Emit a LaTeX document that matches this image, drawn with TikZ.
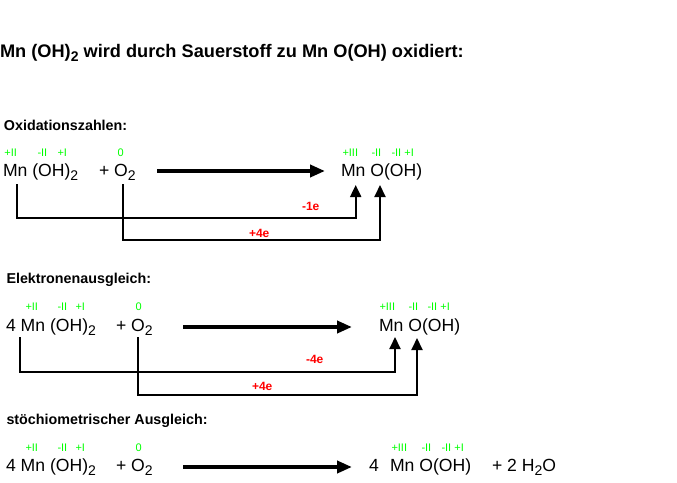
\documentclass[tikz,border=0pt]{standalone}
\usepackage{fontspec}
\setmainfont{Liberation Sans}
\usetikzlibrary{arrows.meta}
\definecolor{oxgreen}{RGB}{0,255,0}
\definecolor{ered}{RGB}{255,0,0}
\newcommand{\subtwo}[1]{\raisebox{-4pt}{\fontsize{14}{14}\selectfont #1}}
\tikzset{
  txt/.style={anchor=base west, inner sep=0pt, outer sep=0pt},
  title/.style={txt, font=\bfseries\fontsize{18.2}{18.2}\selectfont},
  head/.style={txt, font=\bfseries\fontsize{14.3}{14.3}\selectfont},
  formula/.style={txt, font=\fontsize{17.6}{17.6}\selectfont},
  oxn/.style={txt, text=oxgreen, font=\fontsize{11}{11}\selectfont},
  elab/.style={txt, text=ered, font=\bfseries\fontsize{12}{12}\selectfont},
  bigarrow/.style={line width=4pt, -{Triangle[length=15pt,width=12pt]}},
  eline/.style={line width=2pt, -{Triangle[length=12pt,width=11pt]}},
}
\begin{document}
\begin{tikzpicture}[x=1pt,y=-1pt]
\useasboundingbox (0,0) rectangle (677,482);
\fill[white] (0,0) rectangle (677,482);
% title
\node[title] (t) at (0,57) {Mn (OH)\subtwo{2} wird durch Sauerstoff zu Mn O(OH) oxidiert:};

% ---------- section 1
\node[head] (h1) at (4,130) {Oxidationszahlen:};
\node[oxn] (o11) at (4.5,156) {+II};
\node[oxn] (o12) at (37.5,156) {-II};
\node[oxn] (o13) at (57.5,156) {+I};
\node[oxn] (o14) at (117.5,156) {0};
\node[oxn] (o15) at (342.5,156) {+III};
\node[oxn] (o16) at (371.5,156) {-II};
\node[oxn] (o17) at (391.5,156) {-II +I};
\node[formula] (f11) at (3,176) {Mn (OH)\subtwo{2}};
\node[formula] (f12) at (99,176) {+ O\subtwo{2}};
\node[formula] (f13) at (341,176) {Mn O(OH)};
\coordinate (a1s) at (157,171);
\coordinate (a1e) at (325,171);
\draw[bigarrow] (a1s) -- (a1e);
\coordinate (l11s) at (16.7,184);
\coordinate (l11e) at (355.7,185);
\coordinate (l12s) at (123.3,184);
\coordinate (l12e) at (380,185);
\draw[eline] (l11s) -- (16.7,218) -- (355.7,218) -- (l11e);
\draw[eline] (l12s) -- (123.3,239.5) -- (380,239.5) -- (l12e);
\node[elab] (e11) at (302,210) {-1e};
\node[elab] (e12) at (249,237) {+4e};

% ---------- section 2
\node[head] (h2) at (6.5,283) {Elektronenausgleich:};
\node[oxn] (o21) at (25.5,310) {+II};
\node[oxn] (o22) at (57.5,310) {-II};
\node[oxn] (o23) at (75.5,310) {+I};
\node[oxn] (o24) at (135.5,310) {0};
\node[oxn] (o25) at (379.5,310) {+III};
\node[oxn] (o26) at (408.5,310) {-II};
\node[oxn] (o27) at (427.5,310) {-II +I};
\node[formula] (f21) at (6,331) {4 Mn (OH)\subtwo{2}};
\node[formula] (f22) at (116,331) {+ O\subtwo{2}};
\node[formula] (f23) at (379,331) {Mn O(OH)};
\coordinate (a2s) at (183,327);
\coordinate (a2e) at (352,327);
\draw[bigarrow] (a2s) -- (a2e);
\coordinate (l21s) at (20,337);
\coordinate (l21e) at (395,337);
\coordinate (l22s) at (138,337);
\coordinate (l22e) at (417,338);
\draw[eline] (l21s) -- (20,372) -- (395,372) -- (l21e);
\draw[eline] (l22s) -- (138,395) -- (417,395) -- (l22e);
\node[elab] (e21) at (306,363) {-4e};
\node[elab] (e22) at (252,390) {+4e};

% ---------- section 3
\node[head] (h3) at (6.5,424) {stöchiometrischer Ausgleich:};
\node[oxn] (o31) at (25.5,451) {+II};
\node[oxn] (o32) at (57.5,451) {-II};
\node[oxn] (o33) at (75.5,451) {+I};
\node[oxn] (o34) at (135.5,451) {0};
\node[oxn] (o35) at (391.5,451) {+III};
\node[oxn] (o36) at (421.5,451) {-II};
\node[oxn] (o37) at (441.5,451) {-II +I};
\node[formula] (f31) at (6,471) {4 Mn (OH)\subtwo{2}};
\node[formula] (f32) at (116,471) {+ O\subtwo{2}};
\node[formula] (f33) at (369,471) {4};
\node[formula] (f34) at (390,471) {Mn O(OH)};
\node[formula] (f35) at (492,471) {+ 2 H\subtwo{2}O};
\coordinate (a3s) at (183,467);
\coordinate (a3e) at (352,467);
\draw[bigarrow] (a3s) -- (a3e);
\end{tikzpicture}
\end{document}
